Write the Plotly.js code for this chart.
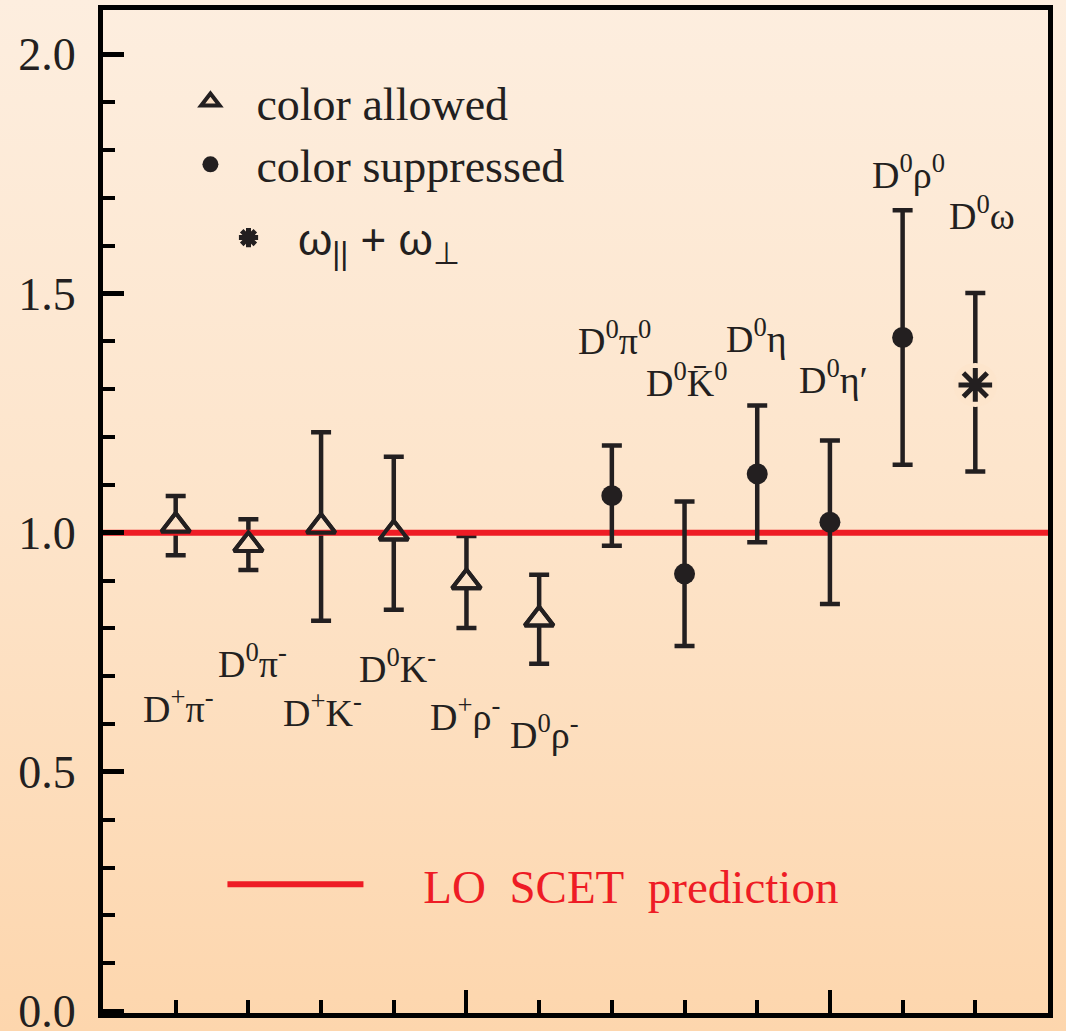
<!DOCTYPE html>
<html><head><meta charset="utf-8">
<script src="https://cdn.plot.ly/plotly-3.0.1.min.js"></script>
<style>
html,body{margin:0;padding:0;}
body{width:1066px;height:1031px;overflow:hidden;background:linear-gradient(to bottom,#fdeedf 0%,#fde4ca 50%,#fdd6ad 100%);}
#chart{width:1066px;height:1031px;}
</style></head><body><div id="chart"></div>
<script>
// ---- data ----
const allowedModes = ['D<sup>+</sup>π<sup>-</sup>', 'D<sup>0</sup>π<sup>-</sup>', 'D<sup>+</sup>K<sup>-</sup>', 'D<sup>0</sup>K<sup>-</sup>', 'D<sup>+</sup>ρ<sup>-</sup>', 'D<sup>0</sup>ρ<sup>-</sup>'];
const allowedX = [1, 2, 3, 4, 5, 6];
const allowedRatio = [1.015, 0.975, 1.013, 0.999, 0.897, 0.819];
const allowedErr = [0.062, 0.053, 0.197, 0.160, 0.096, 0.093];

const suppressedModes = ['D<sup>0</sup>π<sup>0</sup>', 'D<sup>0</sup>K\u0304<sup>0</sup>', 'D<sup>0</sup>η', 'D<sup>0</sup>η′', 'D<sup>0</sup>ρ<sup>0</sup>'];
const suppressedX = [7, 8, 9, 10, 11];
const suppressedRatio = [1.0775, 0.914, 1.123, 1.022, 1.408];
const suppressedErr = [0.105, 0.151, 0.143, 0.171, 0.266];

const omegaModes = ['D<sup>0</sup>ω'];
const omegaX = [12];
const omegaRatio = [1.309];
const omegaErrPlus = [0.192];
const omegaErrMinus = [0.181];

const scetX = [0, 13];
const scetRatio = [1.0, 1.0];

const yTickVals = [0, 0.5, 1.0, 1.5, 2.0];
const yTickText = ['0.0', '0.5', '1.0', '1.5', '2.0'];
const xMajorTicks = [5, 10];

// ---- label placement (layout only) ----
const labelX = [1.04, 2.06, 3.02, 4.05, 4.98, 6.07, 7.04, 8.03, 8.99, 10.05, 11.08, 12.09];
const labelY = [0.638, 0.731, 0.629, 0.722, 0.622, 0.584, 1.407, 1.319, 1.412, 1.325, 1.754, 1.668];

const INK = '#231f20';
const RED = '#ee1c25';
const serif = 'Liberation Serif, Times New Roman, serif';
const sans = 'Liberation Sans, Arial, sans-serif';

const traces = [
  { // colour allowed: triangles filled with background colour, with error bars
    x: allowedX, y: allowedRatio, type: 'scatter', mode: 'markers',
    name: 'color allowed', legend: 'legend', legendgroup: 'a',
    marker: {symbol: 'triangle-up', size: 25, color: '#fde2c7', line: {color: INK, width: 4}},
    error_y: {type: 'data', array: allowedErr, symmetric: true, color: INK, thickness: 4.5, width: 10}
  },
  { // LO SCET prediction
    x: scetX, y: scetRatio, type: 'scatter', mode: 'lines',
    name: '\u00a0\u00a0\u00a0\u00a0\u2006LO\u00a0 SCET\u00a0 prediction', legend: 'legend2',
    line: {color: RED, width: 6}
  },
  { // redraw triangle outlines on top of the line
    x: allowedX, y: allowedRatio, type: 'scatter', mode: 'markers', showlegend: false,
    marker: {symbol: 'triangle-up-open', size: 25, color: INK, line: {color: INK, width: 4}}
  },
  { // colour suppressed
    x: suppressedX, y: suppressedRatio, type: 'scatter', mode: 'markers',
    name: 'color suppressed', legend: 'legend', legendgroup: 'b',
    marker: {symbol: 'circle', size: 21, color: INK},
    error_y: {type: 'data', array: suppressedErr, symmetric: true, color: INK, thickness: 4.5, width: 10}
  },
  { // omega error bar with a gap around the star
    x: omegaX, y: omegaRatio, type: 'scatter', mode: 'markers', showlegend: false,
    marker: {symbol: 'circle', size: 44, color: '#fde5cc', line: {width: 0}},
    error_y: {type: 'data', array: omegaErrPlus, arrayminus: omegaErrMinus, symmetric: false, color: INK, thickness: 4.5, width: 10}
  },
  {
    x: omegaX, y: omegaRatio, type: 'scatter', mode: 'markers',
    name: 'ω<sub>||</sub> + ω<sub>⊥</sub>',
    legend: 'legend3',
    marker: {symbol: 'asterisk-open', size: 28, color: INK, line: {color: INK, width: 5}}
  }
];

const allModes = allowedModes.concat(suppressedModes, omegaModes);
const annotations = allModes.map((t, i) => ({
  x: labelX[i], y: labelY[i], xref: 'x', yref: 'y', text: t, showarrow: false,
  font: {family: serif, size: 38, color: INK}, xanchor: 'center', yanchor: 'middle'
}));

const layout = {
  width: 1066, height: 1031,
  margin: {l: 103, r: 18, t: 10, b: 18},
  paper_bgcolor: 'rgba(0,0,0,0)', plot_bgcolor: 'rgba(0,0,0,0)',
  showlegend: true,
  xaxis: {
    range: [0, 13], showgrid: false, zeroline: false, showticklabels: false,
    showline: true, linecolor: '#000', linewidth: 5, mirror: true,
    ticks: 'inside', tickvals: xMajorTicks, ticklen: 23, tickwidth: 4, tickcolor: '#000',
    minor: {ticks: 'inside', tick0: 0, dtick: 1, ticklen: 13, tickwidth: 4, tickcolor: '#000', showgrid: false}
  },
  yaxis: {
    range: [-0.004, 2.0927], showgrid: false, zeroline: false,
    showline: true, linecolor: '#000', linewidth: 5, mirror: true,
    ticks: 'inside', tickvals: yTickVals, ticktext: yTickText, ticklen: 21, tickwidth: 5, tickcolor: '#000',
    ticklabelstandoff: 13, ticklabeloverflow: 'allow',
    tickfont: {family: serif, size: 46, color: INK},
    minor: {ticks: 'inside', tick0: 0, dtick: 0.1, ticklen: 12, tickwidth: 4, tickcolor: '#000', showgrid: false}
  },
  legend: {
    x: 0.065, y: 0.945, xanchor: 'left', yanchor: 'top',
    bgcolor: 'rgba(0,0,0,0)', borderwidth: 0,
    font: {family: serif, size: 46, color: INK},
    itemwidth: 82, tracegroupgap: 2, traceorder: 'normal'
  },
  legend2: {
    x: 0.1264, y: 0.128, xanchor: 'left', yanchor: 'middle',
    bgcolor: 'rgba(0,0,0,0)', borderwidth: 0,
    font: {family: serif, size: 47, color: RED},
    itemwidth: 136
  },
  legend3: {
    x: 0.1016, y: 0.7727, xanchor: 'left', yanchor: 'middle',
    bgcolor: 'rgba(0,0,0,0)', borderwidth: 0,
    font: {family: sans, size: 44, color: INK},
    itemwidth: 89
  },
  annotations: annotations
};

Plotly.newPlot('chart', traces, layout, {displayModeBar: false, staticPlot: true});
</script>
</body></html>
